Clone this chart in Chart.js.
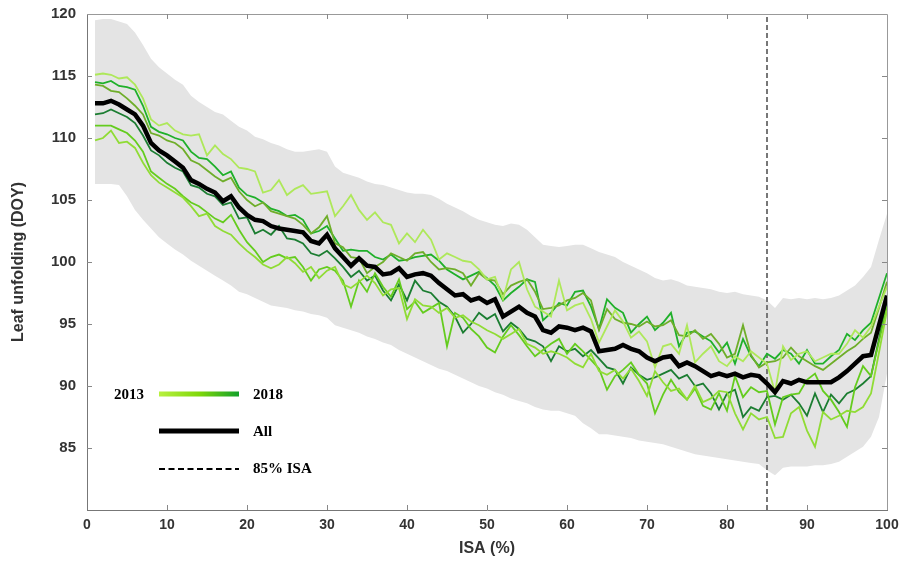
<!DOCTYPE html>
<html>
<head>
<meta charset="utf-8">
<script src="https://cdn.jsdelivr.net/npm/chart.js"></script>
<style>
  body { margin: 0; background: #fff; }
  canvas { display: block; }
</style>
</head>
<body>
<canvas id="leafChart" width="899" height="573"></canvas>
<script>
// ISA (%) classes
const isa = [1, 2, 3, 4, 5, 6, 7, 8, 9, 10, 11, 12, 13, 14, 15, 16, 17, 18, 19, 20,
  21, 22, 23, 24, 25, 26, 27, 28, 29, 30, 31, 32, 33, 34, 35, 36, 37, 38, 39, 40,
  41, 42, 43, 44, 45, 46, 47, 48, 49, 50, 51, 52, 53, 54, 55, 56, 57, 58, 59, 60,
  61, 62, 63, 64, 65, 66, 67, 68, 69, 70, 71, 72, 73, 74, 75, 76, 77, 78, 79, 80,
  81, 82, 83, 84, 85, 86, 87, 88, 89, 90, 91, 92, 93, 94, 95, 96, 97, 98, 99, 100]

const xTicks = [10, 20, 30, 40, 50, 60, 70, 80, 90]
const yTicks = [85, 90, 95, 100, 105, 110, 115]
const isaThreshold = 85

// all years together
const allYears = [112.8, 112.8, 113.0, 112.7, 112.3, 111.9, 111.0, 109.6, 109.0, 108.6,
  108.1, 107.6, 106.6, 106.3, 105.9, 105.6, 104.9, 105.3, 104.4, 103.8,
  103.4, 103.3, 102.9, 102.7, 102.6, 102.5, 102.4, 101.7, 101.5, 102.2,
  101.1, 100.4, 99.7, 100.3, 99.7, 99.6, 99.0, 99.1, 99.5, 98.8,
  99.0, 99.1, 98.9, 98.3, 97.8, 97.3, 97.4, 96.9, 97.1, 96.7,
  97.0, 95.6, 96.0, 96.4, 95.9, 95.6, 94.5, 94.3, 94.8, 94.7,
  94.5, 94.7, 94.4, 92.8, 92.9, 93.0, 93.3, 93.0, 92.8, 92.3,
  92.0, 92.3, 92.4, 91.6, 91.9, 91.6, 91.2, 90.8, 91.0, 90.8,
  91.0, 90.7, 90.9, 90.8, 90.2, 89.5, 90.4, 90.2, 90.5, 90.3,
  90.3, 90.3, 90.3, 90.7, 91.2, 91.8, 92.4, 92.5, 94.9, 97.3]

const y2013 = [115.1, 115.2, 115.1, 114.8, 114.9, 114.3, 113.2, 111.5, 111.0, 111.2,
  110.6, 110.3, 110.2, 110.3, 108.6, 109.4, 108.7, 108.3, 107.6, 107.5,
  107.3, 105.6, 105.8, 106.6, 105.4, 105.9, 106.2, 105.5, 105.6, 105.7,
  103.7, 104.5, 105.4, 104.2, 103.4, 104.0, 103.2, 103.0, 101.5, 102.3,
  101.6, 102.6, 101.8, 100.2, 100.7, 100.4, 100.1, 100.0, 99.4, 98.6,
  98.8, 97.0, 99.4, 100.0, 97.8, 96.4, 96.0, 95.6, 98.5, 96.1,
  96.5, 96.7, 95.4, 93.5, 94.8, 96.1, 95.2, 93.9, 94.4, 93.6,
  91.5, 93.2, 93.4, 92.6, 94.9, 91.9, 92.6, 93.2, 92.0, 91.6,
  92.4, 92.0, 92.8, 92.3, 91.8, 89.5, 93.2, 92.1, 92.6, 92.8,
  92.0, 92.3, 92.6, 92.6, 93.4, 94.5, 93.9, 94.8, 96.4, 98.0]

const y2014 = [109.8, 110.0, 110.6, 109.6, 109.7, 109.2, 108.0, 107.0, 106.4, 106.0,
  105.6, 105.2, 104.5, 103.7, 103.9, 102.9, 102.5, 102.2, 101.5, 100.9,
  100.4, 99.8, 99.5, 99.8, 100.4, 99.9, 99.2, 99.6, 98.7, 99.3,
  99.6, 98.2, 97.9, 98.4, 98.9, 98.3, 97.3, 97.8, 97.9, 95.4,
  97.0, 96.5, 96.4, 95.9, 96.3, 95.5, 95.7, 95.2, 94.9, 94.5,
  94.2, 93.8, 94.2, 94.6, 93.4, 93.1, 92.6, 92.8, 92.6, 92.3,
  91.8, 91.5, 92.6, 91.2, 90.9, 91.3, 90.6, 91.4, 90.4, 89.2,
  91.2, 90.3, 89.6, 89.8, 88.9, 90.0, 88.7, 89.0, 89.6, 89.5,
  87.8, 86.5, 87.8, 87.3, 87.5, 85.8, 85.9, 87.8, 88.3, 86.4,
  85.1, 87.9, 87.3, 87.6, 88.0, 87.9, 88.3, 89.4, 92.7, 96.1]

const y2015 = [111.0, 111.0, 111.0, 110.7, 110.4, 109.8, 108.9, 107.3, 106.8, 106.3,
  105.9, 105.3, 104.8, 104.5, 104.0, 103.5, 103.2, 103.8, 102.6, 101.6,
  100.9, 100.0, 100.4, 100.6, 100.3, 100.4, 99.6, 98.5, 99.4, 99.6,
  99.3, 98.5, 96.4, 98.5, 97.6, 99.1, 98.0, 97.2, 98.6, 96.2,
  96.8, 95.9, 96.3, 96.7, 93.2, 95.9, 95.5, 94.6, 94.0, 93.1,
  92.7, 94.0, 94.9, 94.1, 93.2, 92.4, 92.9, 93.4, 93.8, 92.6,
  93.4, 92.8, 92.1, 91.4, 89.7, 90.8, 91.3, 91.9, 90.9, 90.2,
  87.8, 89.3, 90.5, 89.5, 88.9, 89.8, 88.4, 88.1, 89.4, 88.0,
  90.8, 89.1, 89.9, 89.5, 89.6, 86.9, 89.1, 89.3, 89.4, 90.5,
  91.0, 89.6, 88.9, 87.9, 86.7, 89.9, 91.6, 90.8, 93.6, 96.4]

const y2016 = [114.3, 114.2, 113.8, 113.7, 113.2, 112.6, 111.9, 110.4, 110.2, 109.8,
  109.6, 109.1, 108.2, 107.9, 107.4, 106.9, 106.5, 106.8, 105.7, 105.0,
  104.5, 104.8, 104.1, 103.9, 103.7, 103.5, 103.0, 102.3, 102.8, 103.7,
  101.5, 101.2, 100.4, 100.3, 99.1, 99.6, 100.0, 100.7, 100.4, 100.1,
  100.7, 100.8, 100.0, 99.4, 99.5, 99.4, 99.1, 98.1, 99.1, 98.6,
  98.5, 97.4, 98.1, 98.4, 98.6, 97.6, 96.2, 96.3, 96.5, 96.9,
  97.1, 97.5, 96.9, 94.5, 96.2, 95.4, 95.1, 95.0, 94.8, 95.2,
  94.8, 94.9, 95.3, 94.1, 94.0, 94.5, 93.8, 94.2, 93.4, 92.3,
  92.6, 94.9, 92.5, 91.5, 91.9, 92.0, 92.3, 93.1, 92.4, 92.0,
  91.6, 91.3, 91.8, 92.3, 92.8, 93.2, 93.8, 94.3, 96.3, 98.4]

const y2017 = [114.5, 114.4, 114.6, 114.2, 114.1, 113.9, 112.6, 110.9, 110.5, 110.3,
  110.0, 109.8, 108.9, 108.4, 108.3, 107.7, 107.0, 107.3, 106.0, 105.4,
  105.2, 104.8, 104.3, 104.1, 103.7, 103.8, 103.4, 102.3, 102.5, 102.9,
  101.9, 100.9, 101.0, 100.9, 100.9, 100.4, 100.2, 100.6, 100.1, 100.2,
  100.4, 100.5, 100.6, 100.1, 99.4, 99.0, 98.6, 98.9, 99.2, 98.7,
  98.1, 96.9, 97.5, 98.0, 98.6, 98.4, 95.3, 95.9, 96.7, 96.5,
  97.6, 97.7, 96.4, 94.6, 97.0, 96.3, 95.9, 94.3, 95.0, 95.6,
  94.5, 95.1, 95.9, 93.2, 94.3, 94.4, 94.0, 93.6, 92.7, 93.5,
  91.8, 93.8, 92.4, 91.6, 92.6, 92.2, 92.9, 92.6, 91.8, 92.9,
  91.8, 91.8, 92.4, 92.9, 94.2, 93.7, 94.5, 95.1, 97.1, 99.1]

const y2018 = [111.9, 112.0, 112.3, 112.0, 111.7, 111.2, 110.2, 109.0, 108.6, 108.0,
  107.6, 107.3, 106.2, 106.0, 105.5, 105.3, 104.6, 104.8, 103.5, 103.6,
  102.3, 102.6, 102.2, 102.9, 101.9, 101.8, 101.5, 100.7, 100.5, 100.9,
  100.3, 99.6, 98.8, 99.3, 98.5, 98.9, 97.7, 96.9, 98.2, 96.9,
  98.5, 97.7, 97.5, 96.8, 96.4, 95.6, 94.3, 95.0, 95.9, 95.4,
  95.8, 94.4, 95.1, 94.6, 93.8, 93.6, 93.2, 92.0, 93.2, 92.8,
  93.0, 92.4, 92.9, 92.2, 91.5, 91.3, 90.2, 91.5, 90.9, 90.5,
  90.7, 91.0, 91.3, 90.6, 90.9, 90.0, 90.2, 89.4, 88.1, 89.4,
  89.7, 87.5, 88.3, 88.0, 89.1, 89.2, 88.9, 89.3, 88.6, 87.6,
  89.4, 87.9, 89.3, 88.6, 89.4, 89.7, 90.2, 90.8, 93.8, 96.9]

// grey envelope
const bandUpper = [119.5, 119.6, 119.6, 119.4, 119.2, 118.5, 117.5, 116.4, 115.7, 115.2,
  114.7, 114.3, 113.4, 112.9, 112.5, 112.1, 111.9, 111.4, 110.9, 110.6,
  110.1, 109.9, 109.6, 109.4, 109.1, 108.9, 108.9, 109.0, 109.1, 108.9,
  107.7, 107.2, 107.0, 106.8, 106.5, 106.3, 106.2, 106.0, 105.8, 105.6,
  105.5, 105.5, 105.4, 105.1, 104.7, 104.4, 104.1, 103.7, 103.4, 103.2,
  103.0, 102.9, 103.1, 103.0, 102.6, 102.0, 101.4, 101.3, 101.2, 101.3,
  101.4, 101.4, 101.1, 100.8, 100.6, 100.4, 100.0, 99.7, 99.4, 99.1,
  98.7, 98.5, 98.6, 98.4, 98.1, 98.0, 97.9, 97.8, 97.6, 97.5,
  97.6, 97.4, 97.3, 97.2, 96.9, 96.3, 97.1, 97.0, 97.1, 97.0,
  97.1, 97.0, 97.1, 97.3, 97.7, 98.1, 98.8, 99.6, 101.8, 103.9]

const bandLower = [106.3, 106.3, 106.3, 106.2, 105.3, 104.2, 103.4, 102.7, 102.0, 101.5,
  101.0, 100.6, 100.1, 99.7, 99.3, 98.9, 98.5, 98.1, 97.6, 97.4,
  97.1, 96.8, 96.5, 96.4, 96.3, 96.1, 96.0, 95.8, 95.7, 95.5,
  94.9, 94.7, 94.5, 94.3, 94.0, 93.8, 93.5, 93.3, 92.9, 92.6,
  92.3, 92.0, 91.7, 91.4, 91.2, 90.9, 90.6, 90.3, 90.0, 89.8,
  89.5, 89.3, 89.0, 88.8, 88.6, 88.3, 88.1, 88.0, 88.0, 87.8,
  87.6, 87.0, 86.6, 86.1, 86.1, 86.0, 85.9, 85.8, 85.6, 85.5,
  85.4, 85.3, 85.1, 84.9, 84.7, 84.5, 84.4, 84.3, 84.2, 84.1,
  84.0, 83.9, 83.8, 83.7, 83.2, 82.8, 83.4, 83.5, 83.5, 83.5,
  83.6, 83.6, 83.7, 83.9, 84.3, 84.7, 85.1, 85.9, 87.5, 91.0]

const years = ['2013', '2014', '2015', '2016', '2017', '2018']
const yearSeries = [y2013, y2014, y2015, y2016, y2017, y2018]
const yearColors = ['#aee85a', '#90dc35', '#64cc1e', '#6fae2a', '#1fb02a', '#1b7d31']

const toPoints = (values) => values.map((v, i) => ({ x: isa[i], y: v }))

const datasets = [
  {
    label: 'min',
    data: toPoints(bandLower),
    borderWidth: 0,
    pointRadius: 0,
    fill: false,
    order: 10
  },
  {
    label: 'max',
    data: toPoints(bandUpper),
    borderWidth: 0,
    pointRadius: 0,
    backgroundColor: '#e4e4e4',
    fill: '-1',
    order: 9
  },
  {
    label: '85% ISA',
    data: [{ x: isaThreshold, y: 80 }, { x: isaThreshold, y: 120 }],
    borderColor: '#777',
    borderWidth: 2,
    borderDash: [5, 3],
    pointRadius: 0,
    fill: false,
    order: 8
  }
]

yearSeries.forEach((values, i) => {
  datasets.push({
    label: years[i],
    data: toPoints(values),
    borderColor: yearColors[i],
    borderWidth: 1.8,
    pointRadius: 0,
    fill: false,
    order: 2
  })
})

datasets.push({
  label: 'All',
  data: toPoints(allYears),
  borderColor: '#000',
  borderWidth: 4.5,
  pointRadius: 0,
  fill: false,
  order: 0
})

// box, inward ticks and the hand-made legend
const framePlugin = {
  id: 'frame',
  afterDraw(chart) {
    const { ctx, chartArea: a, scales } = chart
    const x = scales.x
    const y = scales.y
    ctx.save()
    ctx.lineWidth = 1
    ctx.strokeStyle = '#999'
    ctx.beginPath()
    ctx.moveTo(a.left, a.top + 0.5)
    ctx.lineTo(a.right + 0.5, a.top + 0.5)
    ctx.lineTo(a.right + 0.5, a.bottom)
    ctx.stroke()

    ctx.strokeStyle = '#888'
    ctx.beginPath()
    xTicks.forEach((v) => {
      const px = Math.round(x.getPixelForValue(v)) + 0.5
      ctx.moveTo(px, a.bottom)
      ctx.lineTo(px, a.bottom - 5)
      ctx.moveTo(px, a.top)
      ctx.lineTo(px, a.top + 5)
    })
    yTicks.forEach((v) => {
      const py = Math.round(y.getPixelForValue(v)) + 0.5
      ctx.moveTo(a.left, py)
      ctx.lineTo(a.left + 5, py)
      ctx.moveTo(a.right, py)
      ctx.lineTo(a.right - 5, py)
    })
    ctx.stroke()

    // legend
    const lx0 = 159
    const lx1 = 239
    ctx.font = 'bold 15px "Liberation Serif", "Times New Roman", serif'
    ctx.fillStyle = '#000'
    ctx.textBaseline = 'middle'

    const grad = ctx.createLinearGradient(lx0, 0, lx1, 0)
    grad.addColorStop(0, '#b8f040')
    grad.addColorStop(0.5, '#80d80a')
    grad.addColorStop(1, '#12a02a')
    ctx.strokeStyle = grad
    ctx.lineWidth = 5
    ctx.beginPath()
    ctx.moveTo(lx0, 394)
    ctx.lineTo(lx1, 394)
    ctx.stroke()
    ctx.textAlign = 'center'
    ctx.fillText(years[0], 129, 395)
    ctx.textAlign = 'left'
    ctx.fillText(years[years.length - 1], 253, 395)

    ctx.strokeStyle = '#000'
    ctx.lineWidth = 5
    ctx.beginPath()
    ctx.moveTo(lx0, 431)
    ctx.lineTo(lx1, 431)
    ctx.stroke()
    ctx.fillText('All', 253, 432)

    ctx.lineWidth = 1.8
    ctx.setLineDash([6, 3.5])
    ctx.beginPath()
    ctx.moveTo(lx0, 469)
    ctx.lineTo(lx1, 469)
    ctx.stroke()
    ctx.setLineDash([])
    ctx.fillText('85% ISA', 253, 469)
    ctx.restore()
  }
}

const titleFont = { family: '"Liberation Sans", Arial, sans-serif', size: 16, weight: 'bold' }

new Chart(document.getElementById('leafChart'), {
  type: 'line',
  data: { datasets: datasets },
  plugins: [framePlugin],
  options: {
    responsive: false,
    animation: false,
    layout: { padding: { top: 14, right: 12, left: 0, bottom: 0 } },
    plugins: {
      legend: { display: false },
      tooltip: { enabled: false }
    },
    scales: {
      x: {
        type: 'linear',
        min: 0,
        max: 100,
        grid: { display: false, drawTicks: false },
        border: { display: true, color: '#777', width: 1 },
        ticks: {
          stepSize: 10,
          padding: 7,
          color: '#333',
          font: { family: '"Liberation Sans", Arial, sans-serif', size: 14, weight: 'bold' },
          maxRotation: 0
        },
        title: {
          display: true,
          text: 'ISA (%)',
          color: '#333',
          font: titleFont,
          padding: { top: 0, bottom: 15 }
        },
        afterFit(scale) {
          scale.height = 63
          scale.paddingLeft = 0
          scale.paddingRight = 0
        }
      },
      y: {
        min: 80,
        max: 120,
        grid: { display: false, drawTicks: false },
        border: { display: true, color: '#777', width: 1 },
        ticks: {
          stepSize: 5,
          padding: 11,
          color: '#333',
          font: { family: '"Liberation Sans", Arial, sans-serif', size: 15, weight: 'bold' },
          callback: (value) => (value === 80 ? '' : value)
        },
        title: {
          display: true,
          text: 'Leaf unfolding (DOY)',
          color: '#333',
          font: titleFont,
          padding: { top: 9, bottom: 0 }
        },
        afterFit(scale) {
          scale.width = 87
          scale.paddingTop = 0
          scale.paddingBottom = 0
        }
      }
    }
  }
})
</script>
</body>
</html>
